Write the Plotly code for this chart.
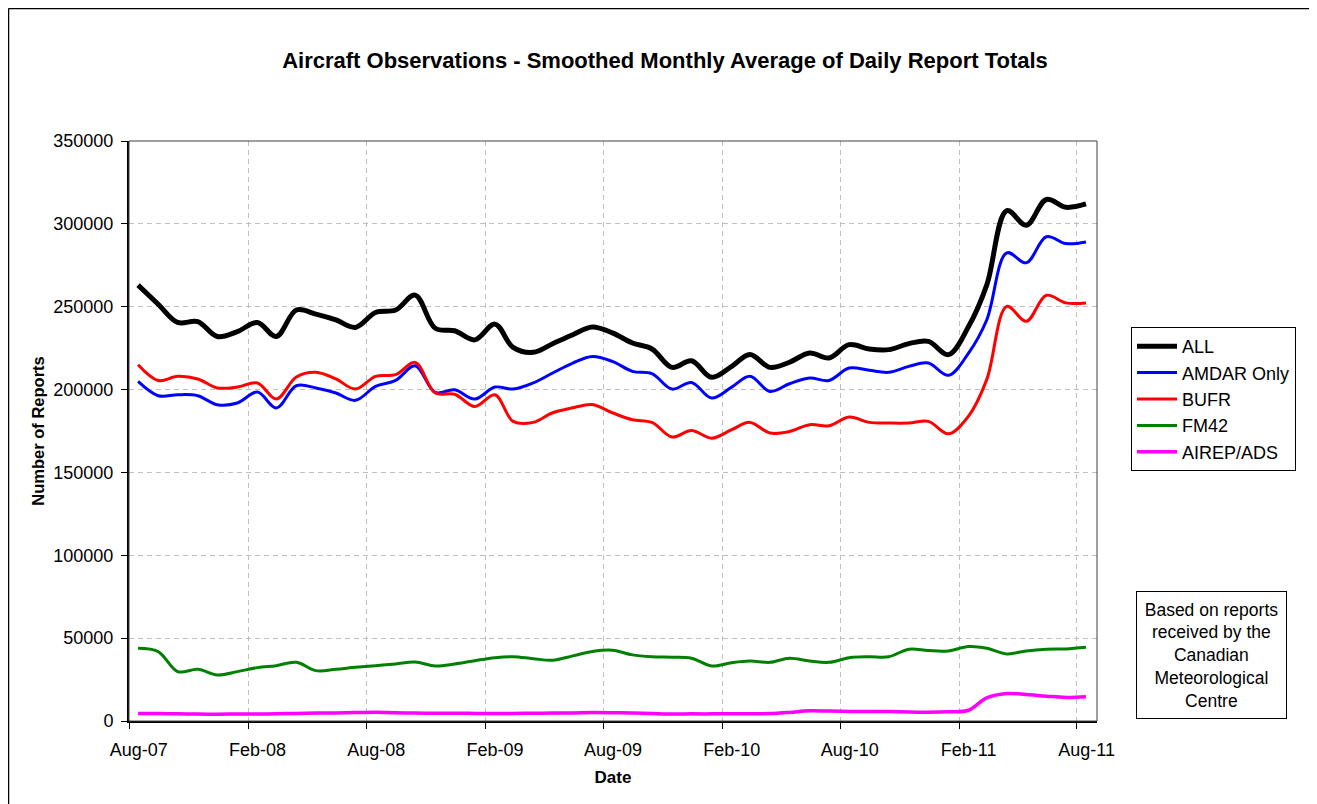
import plotly.graph_objects as go
import pandas as pd

# ---------------- data (monthly averages, plotted mid-month) ----------------
dates = [(d + pd.Timedelta(days=14)).strftime("%Y-%m-%d")
         for d in pd.date_range("2007-08-01", periods=49, freq="MS")]

all_reports = [263000, 251500, 240500, 241000, 232000, 235000, 240500, 232000, 248000, 245500,
               242000, 237500, 246500, 248000, 257000, 237000, 235500, 230000, 239500, 225500,
               222500, 227700, 233100, 237800, 234200, 228100, 224500, 213400, 217400, 207400,
               214000, 221100, 213400, 216500, 222100, 219100, 227100, 224500, 224100, 227700,
               229100, 221100, 238000, 263000, 308000, 299200, 314700, 310000, 312000]
amdar_only = [204900, 196300, 196900, 196300, 190900, 191900, 198500, 188900, 202300, 201000,
              197900, 193500, 201900, 205500, 214400, 198300, 199900, 194300, 201500, 200300,
              204000, 210000, 216000, 220000, 217000, 211000, 209600, 200300, 204300, 194900,
              201500, 208000, 198900, 203500, 207000, 205500, 213000, 211600, 210400, 214000,
              216000, 208600, 222000, 242000, 282500, 276500, 292200, 288100, 289100]
bufr = [215000, 205500, 208000, 206400, 201000, 201500, 204000, 194300, 207600, 210400,
        206400, 200300, 208000, 209000, 216400, 197900, 197200, 189800, 196900, 180800,
        180200, 186000, 189000, 191000, 186000, 181800, 180200, 171400, 175300, 170700,
        175800, 180200, 173800, 174700, 178800, 178200, 183400, 180200, 179800, 179800,
        180800, 173300, 184000, 206000, 250200, 241200, 256900, 252300, 252300]
fm42 = [43900, 41900, 29800, 31200, 27800, 29800, 32200, 33400, 35400, 30400,
        31200, 32400, 33400, 34400, 35600, 33200, 34400, 36400, 38200, 38800,
        37600, 36700, 39300, 41900, 42700, 39900, 38800, 38500, 37900, 33200,
        35200, 36200, 35400, 37900, 36200, 35400, 38200, 38800, 38800, 43300,
        42500, 42300, 44900, 43900, 40500, 42300, 43300, 43500, 44500]
airep_ads = [4600, 4500, 4300, 4200, 4100, 4200, 4200, 4300, 4600, 4800,
             4900, 5100, 5300, 5000, 4800, 4700, 4700, 4600, 4500, 4600,
             4700, 4800, 4900, 5100, 5000, 4800, 4500, 4200, 4300, 4300,
             4400, 4400, 4500, 5200, 6200, 6000, 5800, 5800, 5700, 5400,
             5300, 5600, 6500, 14000, 16600, 16000, 15000, 14200, 14600]

series_names = ["ALL", "AMDAR Only", "BUFR", "FM42", "AIREP/ADS"]
series_values = [all_reports, amdar_only, bufr, fm42, airep_ads]
series_colors = ["#000000", "#0000FF", "#FF0000", "#008000", "#FF00FF"]
series_widths = [5, 3, 3, 3, 3.5]

tick_labels = ["Aug-07", "Feb-08", "Aug-08", "Feb-09", "Aug-09", "Feb-10", "Aug-10", "Feb-11", "Aug-11"]
tick_month_starts = ["2007-08-01", "2008-02-01", "2008-08-01", "2009-02-01", "2009-08-01",
                     "2010-02-01", "2010-08-01", "2011-02-01", "2011-08-01"]
tick_label_pos = ["2007-08-16", "2008-02-15", "2008-08-16", "2009-02-15", "2009-08-16",
                  "2010-02-15", "2010-08-16", "2011-02-15", "2011-08-16"]

FONT = "Arial, Liberation Sans, sans-serif"

fig = go.Figure()
for name, vals, col, w in zip(series_names, series_values, series_colors, series_widths):
    fig.add_trace(go.Scatter(x=dates, y=vals, name=name, mode="lines",
                             line=dict(color=col, width=w, shape="spline", smoothing=1.0)))

# the page body adds an 8px offset; figure coords = screen coords - 8
OFF = 8
W, H = 1317 - OFF, 804 - OFF
L, R, T, B = 129, 1097, 141, 721          # plot area in screen pixels
pw, ph = R - L, B - T

def px(xs):
    return (xs - L) / pw

def py(ys):
    return (B - ys) / ph

fig.update_layout(
    width=W, height=H,
    margin=dict(l=L - OFF, r=W - (R - OFF), t=T - OFF, b=H - (B - OFF), pad=0),
    paper_bgcolor="white", plot_bgcolor="white",
    font=dict(family=FONT, size=18, color="black"),
    title=dict(text="Aircraft Observations - Smoothed Monthly Average of Daily Report Totals",
               font=dict(family=FONT, size=22, color="black", weight="bold"),
               x=(665 - OFF) / W, xanchor="center", y=1 - (60 - OFF) / H, yanchor="middle",
               xref="container", yref="container"),
    showlegend=True,
    legend=dict(x=px(1131), y=py(327), xanchor="left", yanchor="top",
                bordercolor="black", borderwidth=1, bgcolor="white",
                font=dict(family=FONT, size=18, color="black"),
                itemwidth=40, tracegroupgap=0),
)

fig.update_xaxes(
    type="date", range=["2007-08-01", "2011-09-01"],
    tickmode="array", tickvals=tick_label_pos, ticktext=tick_labels,
    ticks="outside", ticklen=7, tickcolor="rgba(0,0,0,0)", ticklabelstandoff=4,
    showgrid=False, zeroline=False,
    showline=True, linecolor="black", linewidth=2,
    tickfont=dict(family=FONT, size=18, color="black"),
    minor=dict(tickmode="array", tickvals=tick_month_starts, ticks="outside", ticklen=6,
               tickcolor="black", tickwidth=1, showgrid=True, gridcolor="#BFBFBF",
               gridwidth=1, griddash="5px,4px"),
    title=dict(text="Date", font=dict(family=FONT, size=17, color="black", weight="bold"),
               standoff=13),
)
fig.update_yaxes(
    range=[0, 350000], dtick=50000, tick0=0, tickformat="d",
    ticks="outside", ticklen=6, tickcolor="black", tickwidth=1, ticklabelstandoff=4,
    showgrid=True, gridcolor="#BFBFBF", gridwidth=1, griddash="5px,4px",
    zeroline=False, showline=True, linecolor="black", linewidth=2,
    tickfont=dict(family=FONT, size=18, color="black"),
    title=dict(text="Number of Reports", font=dict(family=FONT, size=16.5, color="black", weight="bold"),
               standoff=5),
)

# plot-area frame
fig.add_shape(type="rect", xref="paper", yref="paper", x0=0, x1=1, y0=0, y1=1,
              line=dict(color="#404040", width=1), layer="above")
# outer chart border (left and top edges visible)
fig.add_shape(type="line", xref="paper", yref="paper", x0=px(8.5), x1=px(8.5), y0=py(8.5), y1=py(900),
              line=dict(color="black", width=1.5), layer="above")
fig.add_shape(type="line", xref="paper", yref="paper", x0=px(8.5), x1=px(1400), y0=py(8.5), y1=py(8.5),
              line=dict(color="black", width=1.5), layer="above")

fig.add_annotation(
    text="Based on reports<br>received by the<br>Canadian<br>Meteorological<br>Centre",
    xref="paper", yref="paper", x=px(1211.5), y=py(655), xanchor="center", yanchor="middle",
    showarrow=False, align="center", width=145, height=122,
    bordercolor="black", borderwidth=1, borderpad=2, bgcolor="white",
    font=dict(family=FONT, size=17.5, color="black"),
)

fig.write_html("out.html")
